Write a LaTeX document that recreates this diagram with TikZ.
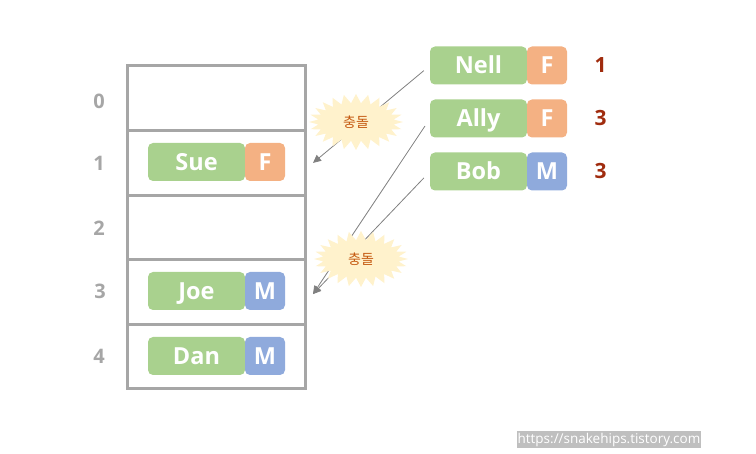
\documentclass[tikz,border=0pt]{standalone}
\usepackage{fontspec}
\setmainfont{Open Sans}
\newfontfamily\krfont{Noto Sans CJK KR}
\usetikzlibrary{arrows.meta,positioning,shapes.symbols}
\definecolor{keygreen}{RGB}{169,209,142}
\definecolor{sexorange}{RGB}{244,177,131}
\definecolor{sexblue}{RGB}{143,170,220}
\definecolor{slotgray}{RGB}{166,166,166}
\definecolor{hashred}{RGB}{160,44,14}
\definecolor{linkgray}{RGB}{128,128,128}
\definecolor{burstfill}{RGB}{255,242,204}
\definecolor{bursttext}{RGB}{197,90,17}
\definecolor{markgray}{RGB}{191,191,191}

\begin{document}
\begin{tikzpicture}[
    x=1pt, y=-1pt,
    slot/.style={rectangle, draw=slotgray, line width=3pt, outer sep=0pt, minimum width=178pt, minimum height=64.6pt, inner sep=0pt},
    index/.style={text=slotgray, font=\fontsize{20}{22}\selectfont\bfseries},
    key/.style={rectangle, fill=keygreen, rounded corners=5pt, outer sep=0pt, minimum width=97pt, minimum height=38pt, inner sep=0pt, text height=17pt, text depth=0pt, text=white, font=\fontsize{23.5}{26}\selectfont\bfseries},
    sex/.style={rectangle, fill=#1, rounded corners=5pt, outer sep=0pt, minimum width=40pt, minimum height=38pt, inner sep=0pt, text height=17pt, text depth=0pt, text=white, font=\fontsize{23.5}{26}\selectfont\bfseries},
    hash/.style={text=hashred, font=\fontsize{21}{24}\selectfont\bfseries},
    burst/.style={starburst, fill=burstfill, draw=none, random starburst=0, starburst points=24, starburst point height=9pt, minimum width=94pt, minimum height=56pt, inner sep=0pt, text=bursttext, font=\krfont\fontsize{14}{16}\selectfont},
    arrow/.style={-{Triangle[length=8pt,width=7.5pt]}, draw=linkgray, line width=0.8pt},
]
    \useasboundingbox (0,0) rectangle (756,454);

    % hash table slots
    \node[slot] (slot0) at (216,98.3) {};
    \node[slot, below=0pt of slot0] (slot1) {};
    \node[slot, below=0pt of slot1] (slot2) {};
    \node[slot, below=0pt of slot2] (slot3) {};
    \node[slot, below=0pt of slot3] (slot4) {};

    \node[index] (idx0) at (99,101) {0};
    \node[index] (idx1) at (99,163) {1};
    \node[index] (idx2) at (99,228) {2};
    \node[index] (idx3) at (100,291) {3};
    \node[index] (idx4) at (99,356) {4};

    % stored records
    \node[key] (sue) at (196.5,162) {Sue};
    \node[sex=sexorange, right=0pt of sue] (sueg) {F};
    \node[key] (joe) at (196.5,291) {Joe};
    \node[sex=sexblue, right=0pt of joe] (joeg) {M};
    \node[key] (dan) at (196.5,356) {Dan};
    \node[sex=sexblue, right=0pt of dan] (dang) {M};

    % incoming records
    \node[key] (nell) at (478.5,65.5) {Nell};
    \node[sex=sexorange, right=0pt of nell] (nellg) {F};
    \node[key, below=15pt of nell] (ally) {Ally};
    \node[sex=sexorange, right=0pt of ally] (allyg) {F};
    \node[key, below=15pt of ally] (bob) {Bob};
    \node[sex=sexblue, right=0pt of bob] (bobg) {M};

    \node[hash, right=24pt of nellg] (nellh) {1};
    \node[hash, right=24pt of allyg] (allyh) {3};
    \node[hash, right=24pt of bobg] (bobh) {3};

    \coordinate (hit1) at ([xshift=8pt]slot1.east);
    \coordinate (hit3) at ([xshift=8pt,yshift=-2pt]slot3.east);

    \draw[arrow, shorten <=8pt] (nell.west) -- (hit1);
    \draw[arrow, shorten <=9pt] (ally.west) -- (hit3);
    \draw[arrow, shorten <=9pt] (bob.west) -- (hit3);

    % collisions
    \node[burst] (clash1) at (356,122) {충돌};
    \node[burst] (clash2) at (361,259) {충돌};

    \node[fill=markgray, text=white, font=\fontsize{13.5}{15}\selectfont, inner sep=1pt, minimum height=17pt] (mark) at (609,439.5) {https://snakehips.tistory.com};
\end{tikzpicture}
\end{document}
